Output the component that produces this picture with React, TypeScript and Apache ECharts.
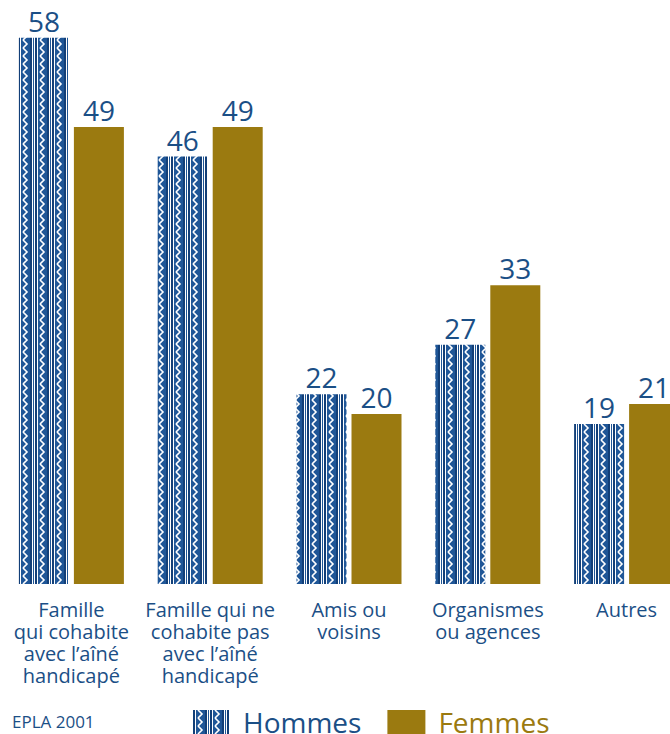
import React, { useEffect, useRef } from "react";
import * as echarts from "echarts";

const categories = [
  "Famille\nqui cohabite\navec l’aîné\nhandicapé",
  "Famille qui ne\ncohabite pas\navec l’aîné\nhandicapé",
  "Amis ou\nvoisins",
  "Organismes\nou agences",
  "Autres",
];
const hommes = [58, 46, 22, 27, 19];
const femmes = [49, 49, 20, 33, 21];
const seriesNames = ["Hommes", "Femmes"];
const sourceText = "EPLA 2001";

const BLUE_TEXT = "#1b4f86";
const GOLD = "#9b7a10";

function makePattern(): HTMLCanvasElement {
  const c = document.createElement("canvas");
  c.width = 17;
  c.height = 8;
  const g = c.getContext("2d")!;
  g.fillStyle = "#1f5697";
  g.fillRect(0, 0, 17, 8);
  g.fillStyle = "#ffffff";
  g.fillRect(0, 0, 1, 8);
  g.fillRect(3, 0, 1, 8);
  g.fillRect(15, 0, 1, 8);
  g.fillStyle = "#123f78";
  g.fillRect(1, 0, 2, 8);
  g.fillRect(13, 0, 2, 8);
  g.strokeStyle = "#ffffff";
  g.lineWidth = 1.6;
  g.beginPath();
  g.moveTo(6, 0);
  g.lineTo(10, 4);
  g.lineTo(6, 8);
  g.stroke();
  return c;
}

export default function App() {
  const ref = useRef<HTMLDivElement>(null);
  useEffect(() => {
    document.body.style.margin = "0";
    const chart = echarts.init(ref.current!, null, { renderer: "svg" });
    const pat = makePattern();
    const patternColor: any = {
      image: pat,
      repeat: "repeat",
      imageWidth: 17,
      imageHeight: 8,
    };
    const font = "'Open Sans', sans-serif";
    chart.setOption({
      animation: false,
      grid: {
        left: 2,
        width: 694,
        top: 18,
        bottom: 150,
        containLabel: false,
        outerBoundsMode: "none",
      },
      xAxis: {
        type: "category",
        data: categories,
        axisLine: { show: false },
        axisTick: { show: false },
        axisLabel: {
          interval: 0,
          margin: 14,
          color: BLUE_TEXT,
          fontSize: 20,
          lineHeight: 22,
          fontFamily: font,
          align: "center",
        },
      },
      yAxis: {
        type: "value",
        min: 2.83,
        max: 60,
        show: false,
        splitLine: { show: false },
      },
      legend: {
        left: 192,
        top: 708,
        padding: 0,
        itemWidth: 38,
        itemHeight: 24,
        itemGap: 26,
        icon: "rect",
        data: [
          { name: seriesNames[0], textStyle: { color: BLUE_TEXT } },
          { name: seriesNames[1], textStyle: { color: GOLD } },
        ],
        textStyle: { fontSize: 28, fontFamily: font, padding: [0, 0, 0, 8] },
      },
      graphic: [
        {
          type: "text",
          left: 12,
          top: 713,
          style: {
            text: sourceText,
            fill: BLUE_TEXT,
            fontSize: 17,
            fontFamily: font,
          },
        },
      ],
      series: [
        {
          name: seriesNames[0],
          type: "bar",
          data: hommes,
          barWidth: 50,
          barGap: "10%",
          itemStyle: { color: patternColor },
          label: {
            show: true,
            position: "top",
            distance: 3,
            color: BLUE_TEXT,
            fontSize: 28,
            fontFamily: font,
          },
        },
        {
          name: seriesNames[1],
          type: "bar",
          data: femmes,
          barWidth: 50,
          barGap: "10%",
          itemStyle: { color: GOLD },
          label: {
            show: true,
            position: "top",
            distance: 3,
            color: BLUE_TEXT,
            fontSize: 28,
            fontFamily: font,
          },
        },
      ],
    });
    return () => chart.dispose();
  }, []);
  return <div ref={ref} style={{ width: 670, height: 734 }} />;
}
